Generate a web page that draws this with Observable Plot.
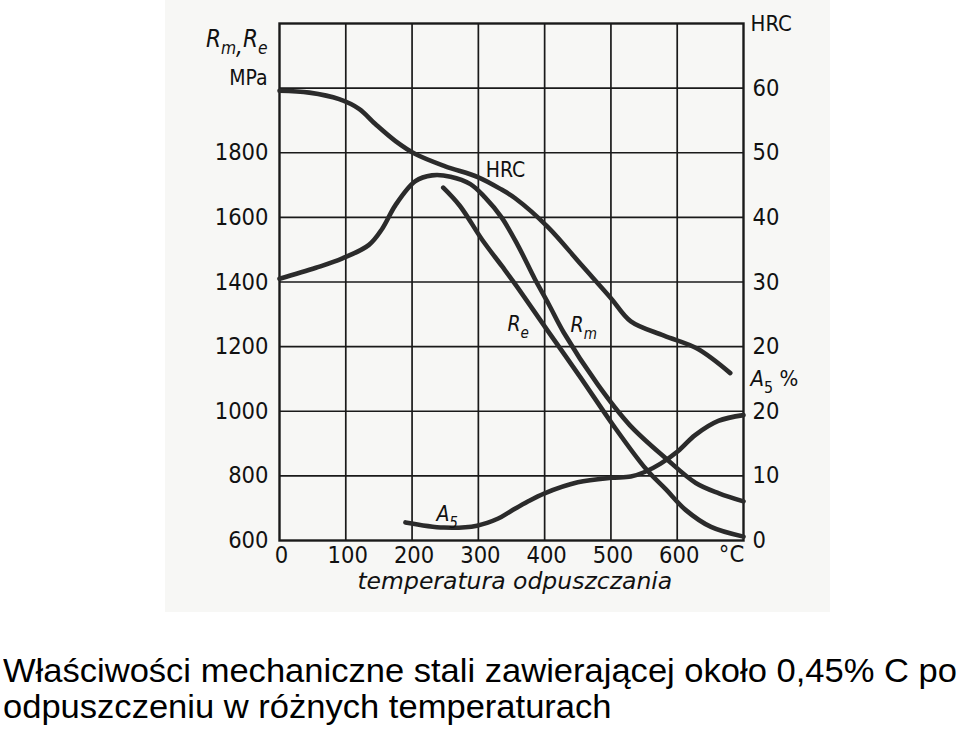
<!DOCTYPE html>
<html><head><meta charset="utf-8">
<script src="https://cdn.jsdelivr.net/npm/d3@7"></script>
<script src="https://cdn.jsdelivr.net/npm/@observablehq/plot@0.6"></script>
<style>
body{margin:0;background:#fff;width:959px;height:732px;overflow:hidden;position:relative;font-family:"Liberation Sans",Arial,sans-serif}
#scan{position:absolute;left:165px;top:0;width:665px;height:612px;background:#f7f7f5}
#chart{position:absolute;left:0;top:0}
#caption{position:absolute;left:3px;top:653px;font-size:32.5px;line-height:36px;color:#000;white-space:nowrap;transform-origin:0 0}
</style></head><body>
<div id="scan"></div>
<div id="chart"></div>
<div id="caption"><div><span id="cap1">Właściwości mechaniczne stali zawierającej około 0,45% C po</span></div><div>odpuszczeniu w różnych temperaturach</div></div>
<script>
// ---- data ----
const hrcT = [0, 45, 90, 120, 145, 175, 205, 250, 300, 335, 355, 405, 455, 500, 530, 580, 630, 680];
const hrcV = [59.6, 59.3, 58.3, 56.8, 54.4, 51.8, 49.8, 47.9, 46.2, 44.3, 43.0, 38.5, 32.7, 27.5, 23.9, 21.7, 19.7, 15.9];

const rmT = [0, 55, 95, 135, 155, 175, 205, 230, 258, 288, 310, 335, 360, 385, 406, 429, 480, 528, 583, 628, 663, 700];
const rmV = [1410, 1444, 1473, 1515, 1565, 1638, 1712, 1730, 1726, 1703, 1662, 1600, 1512, 1410, 1332, 1243, 1083, 958, 854, 778, 746, 721];

const reT = [247, 272, 306, 336, 355, 405, 454, 503, 553, 583, 613, 651, 700];
const reV = [1692, 1636, 1530, 1448, 1395, 1248, 1105, 958, 821, 758, 694, 642, 612];

const a5T = [190, 248, 298, 330, 350, 374, 400, 450, 500, 530, 551, 575, 601, 627, 662, 700];
const a5V = [2.8, 2.0, 2.3, 3.4, 4.6, 6.0, 7.3, 9.0, 9.7, 9.9, 10.6, 11.9, 13.8, 16.3, 18.5, 19.4];

const xTicks = [0, 100, 200, 300, 400, 500, 600];
const xGrid = [100, 200, 300, 400, 500, 600];
const yTicksMPa = [600, 800, 1000, 1200, 1400, 1600, 1800];
const yGrid = [800, 1000, 1200, 1400, 1600, 1800, 2000];
const hrcTicks = [60, 50, 40, 30, 20];
const a5Ticks = [20, 10, 0];
const xUnit = "°C";
const xTitle = "temperatura odpuszczania";
const leftHeads = [{t: "Rm,Re", v: 2150, s: 24}, {t: "MPa", v: 2030, s: 21}];
const rightHeads = [{t: "HRC", v: 2200}, {t: "A5 %", v: 1100}];
const curveLabels = [
  {t: "HRC", x: 341, v: 1745, it: false},
  {t: "Re", x: 360, v: 1268, it: true},
  {t: "Rm", x: 459, v: 1266, it: true},
  {t: "A5", x: 253, v: 680, it: true}
];

// HRC and A5 are drawn on the MPa scale (right-hand axes share the grid)
const hrcToMPa = h => 800 + 20 * h;
const a5ToMPa = a => 600 + 20 * a;

const hrc = hrcT.map((t, i) => ({t, v: hrcToMPa(hrcV[i])}));
const rm = rmT.map((t, i) => ({t, v: rmV[i]}));
const re = reT.map((t, i) => ({t, v: reV[i]}));
const a5 = a5T.map((t, i) => ({t, v: a5ToMPa(a5V[i])}));

const FONT = "DejaVu Sans Condensed, DejaVu Sans, sans-serif";
const ink = "#2b2b2b";
const lineOpts = {x: "t", y: "v", curve: "catmull-rom", stroke: ink, strokeWidth: 4.6};

const plot = Plot.plot({
  width: 959, height: 640,
  marginLeft: 279, marginRight: 216, marginTop: 23, marginBottom: 100,
  style: {background: "transparent", fontFamily: FONT, color: "#111"},
  x: {domain: [0, 700], axis: null},
  y: {domain: [600, 2200], axis: null},
  marks: [
    Plot.ruleX(xGrid, {stroke: "#1a1a1a", strokeWidth: 1.7}),
    Plot.ruleY(yGrid, {stroke: "#1a1a1a", strokeWidth: 1.7}),
    Plot.frame({stroke: "#1a1a1a", strokeWidth: 2.4}),
    Plot.line(hrc, lineOpts),
    Plot.line(rm, lineOpts),
    Plot.line(re, lineOpts),
    Plot.line(a5, lineOpts),
    // left axis
    Plot.text(yTicksMPa, {frameAnchor: "left", y: d => d, text: d => String(d), textAnchor: "end", dx: -11, fontSize: 23.5, fill: "#111"}),
    Plot.text(leftHeads, {frameAnchor: "left", y: "v", text: "t", textAnchor: "end", dx: -12, fontSize: d => d.s, fill: "#111"}),
    // right axes
    Plot.text(hrcTicks, {frameAnchor: "right", y: d => hrcToMPa(d), text: d => String(d), textAnchor: "start", dx: 9, fontSize: 23.5, fill: "#111"}),
    Plot.text(a5Ticks, {frameAnchor: "right", y: d => a5ToMPa(d), text: d => String(d), textAnchor: "start", dx: 9, fontSize: 23.5, fill: "#111"}),
    Plot.text(rightHeads, {frameAnchor: "right", y: "v", text: "t", textAnchor: "start", dx: 7, fontSize: 22, fill: "#111"}),
    // x axis
    Plot.text(xTicks, {x: d => d, frameAnchor: "bottom", text: d => String(d), dy: 22, dx: 2, fontSize: 23.5, fill: "#111"}),
    Plot.text([xUnit], {x: 700, frameAnchor: "bottom", text: d => d, dy: 21, dx: -12, fontSize: 23.5, fill: "#111"}),
    Plot.text([xTitle], {x: 355, frameAnchor: "bottom", text: d => d, dy: 48, fontSize: 23.5, fontStyle: "italic", fill: "#111", fontFamily: "DejaVu Sans, sans-serif"}),
    // curve labels
    Plot.text(curveLabels, {x: "x", y: "v", text: "t", fontSize: 21, fontStyle: d => d.it ? "italic" : "normal", fill: "#111"})
  ]
});
document.getElementById("chart").appendChild(plot);

// subscripts (R_m, R_e, A_5): [text, lowered, small]
const subs = {
  "Rm,Re": [["R", 0, 0], ["m", 1, 1], [",", 1, 0], ["R", 0, 0], ["e", 1, 1]],
  "Re": [["R", 0, 0], ["e", 1, 1]],
  "Rm": [["R", 0, 0], ["m", 1, 1]],
  "A5": [["A", 0, 0], ["5", 1, 1]],
  "A5 %": [["A", 0, 0], ["5", 1, 1], [" %", 0, 0]]
};
d3.select(plot).selectAll("text").each(function () {
  const key = this.textContent;
  if (!(key in subs)) return;
  this.setAttribute("font-style", key === "A5 %" ? "normal" : "italic");
  const el = d3.select(this);
  el.text(null);
  let level = 0;
  for (const [s, low, small] of subs[key]) {
    const ts = el.append("tspan").text(s);
    if (key === "A5 %" && s === "A") ts.attr("font-style", "italic");
    if (small) ts.attr("font-size", "72%");
    const target = low ? 7 : 0;
    if (target !== level) { ts.attr("dy", target - level); level = target; }
  }
});

// fit the caption to the width of the picture
const cap = document.getElementById("caption");
const w = document.getElementById("cap1").getBoundingClientRect().width;
cap.style.transform = `scaleX(${954 / w})`;
</script>
</body></html>
